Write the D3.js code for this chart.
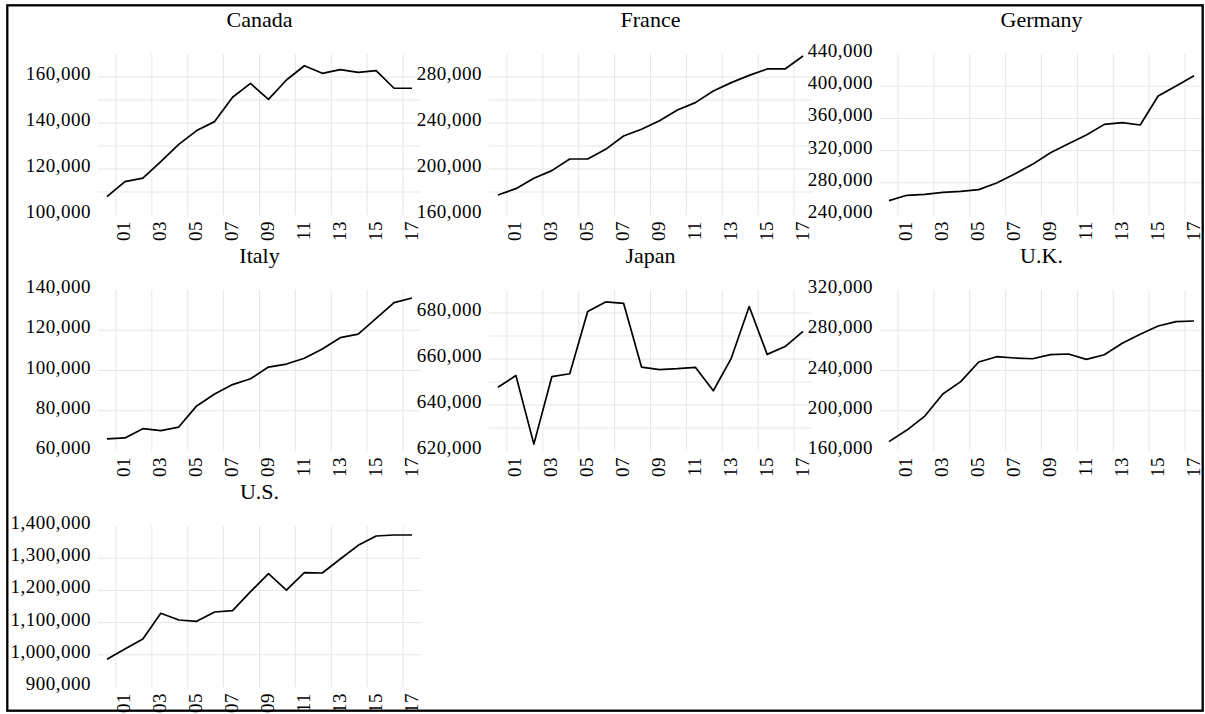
<!DOCTYPE html>
<html>
<head>
<meta charset="utf-8">
<script src="https://cdn.jsdelivr.net/npm/d3@7"></script>
<style>
  html, body { margin: 0; padding: 0; background: #fff; }
  svg { display: block; }
  .tick text { font-family: "Liberation Serif", "Times New Roman", serif; }
</style>
</head>
<body>
<svg id="chart" width="1205" height="714"></svg>
<script>
// Annual values, one point per year
const years = [2000, 2001, 2002, 2003, 2004, 2005, 2006, 2007, 2008, 2009,
               2010, 2011, 2012, 2013, 2014, 2015, 2016, 2017];

const canada  = [108000, 114500, 116000, 123200, 130700, 136700, 140600, 151200, 157200,
                 150300, 158700, 164900, 161600, 163200, 162000, 162800, 155100, 155100];
const france  = [177400, 182900, 191900, 198600, 208700, 208700, 217100, 228700, 234500,
                 242000, 251300, 257700, 267800, 275100, 281400, 287000, 287000, 298300];
const germany = [257800, 264500, 265700, 268200, 269400, 271500, 279800, 290900, 302900,
                 317400, 328600, 339400, 352600, 354700, 351800, 387800, 400200, 413100];
const italy   = [66000, 66500, 71100, 70100, 71900, 82400, 88300, 93000, 95900,
                 101700, 103200, 106100, 110700, 116300, 118100, 125900, 133700, 136000];
const japan   = [647700, 652800, 623000, 652300, 653600, 680700, 684800, 684200, 656500,
                 655400, 655800, 656400, 646200, 660300, 682800, 662000, 665400, 672000];
const uk      = [169300, 180800, 194700, 216600, 228900, 248400, 253700, 252400, 251700,
                 255700, 256400, 251100, 255700, 267000, 276000, 284200, 288500, 289200];
const us      = [986000, 1018000, 1049000, 1129000, 1108000, 1104000, 1133000, 1137000, 1196000,
                 1252000, 1201000, 1255000, 1254000, 1297500, 1340000, 1369000, 1372000, 1372000];

// Year ticks along the bottom of every panel
const xTickYears  = [2001, 2003, 2005, 2007, 2009, 2011, 2013, 2015, 2017];
const xTickLabels = ["01", "03", "05", "07", "09", "11", "13", "15", "17"];

// Value axis extents, grid lines and labelled ticks per panel
const canadaRange  = [100000, 170000];
const canadaGrid   = [110000, 120000, 130000, 140000, 150000, 160000];
const canadaTicks  = [100000, 120000, 140000, 160000];

const franceRange  = [160000, 300000];
const franceGrid   = [180000, 200000, 220000, 240000, 260000, 280000];
const franceTicks  = [160000, 200000, 240000, 280000];

const germanyRange = [240000, 440000];
const germanyGrid  = [280000, 320000, 360000, 400000];
const germanyTicks = [240000, 280000, 320000, 360000, 400000, 440000];

const italyRange   = [60000, 140000];
const italyGrid    = [80000, 100000, 120000];
const italyTicks   = [60000, 80000, 100000, 120000, 140000];

const japanRange   = [620000, 690000];
const japanGrid    = [630000, 640000, 650000, 660000, 670000, 680000];
const japanTicks   = [620000, 640000, 660000, 680000];

const ukRange      = [160000, 320000];
const ukGrid       = [200000, 240000, 280000];
const ukTicks      = [160000, 200000, 240000, 280000, 320000];

const usRange      = [900000, 1400000];
const usGrid       = [1000000, 1100000, 1200000, 1300000];
const usTicks      = [900000, 1000000, 1100000, 1200000, 1300000, 1400000];

const panels = [
  { title: "Canada",  values: canada,  range: canadaRange,  grid: canadaGrid,  ticks: canadaTicks,  col: 0, row: 0 },
  { title: "France",  values: france,  range: franceRange,  grid: franceGrid,  ticks: franceTicks,  col: 1, row: 0 },
  { title: "Germany", values: germany, range: germanyRange, grid: germanyGrid, ticks: germanyTicks, col: 2, row: 0 },
  { title: "Italy",   values: italy,   range: italyRange,   grid: italyGrid,   ticks: italyTicks,   col: 0, row: 1 },
  { title: "Japan",   values: japan,   range: japanRange,   grid: japanGrid,   ticks: japanTicks,   col: 1, row: 1 },
  { title: "U.K.",    values: uk,      range: ukRange,      grid: ukGrid,      ticks: ukTicks,      col: 2, row: 1 },
  { title: "U.S.",    values: us,      range: usRange,      grid: usGrid,      ticks: usTicks,      col: 0, row: 2 }
];

// Panel geometry
const colLeft = [98, 489, 880];
const rowTop  = [54, 290, 526];
const pw = 323, ph = 161;
const fontFamily = '"Liberation Serif", "Times New Roman", serif';

const svg = d3.select("#chart");
svg.append("rect").attr("width", 1205).attr("height", 714).attr("fill", "#fff");

const fmt = d3.format(",");

panels.forEach(p => {
  const left = colLeft[p.col], top = rowTop[p.row];
  const x = d3.scaleLinear().domain([2000, 2018]).range([left, left + pw]);
  const y = d3.scaleLinear().domain(p.range).range([top + ph, top]);

  const g = svg.append("g");

  // grid: horizontal
  g.append("g").selectAll("line").data(p.grid).join("line")
    .attr("x1", left).attr("x2", left + pw)
    .attr("y1", d => y(d)).attr("y2", d => y(d))
    .attr("stroke", "#e6e6e6").attr("stroke-width", 1);
  // grid: vertical
  g.append("g").selectAll("line").data(xTickYears).join("line")
    .attr("x1", d => x(d)).attr("x2", d => x(d))
    .attr("y1", top).attr("y2", top + ph)
    .attr("stroke", "#e6e6e6").attr("stroke-width", 1);

  // value axis labels
  const ya = g.append("g").attr("transform", `translate(${left},0)`)
    .call(d3.axisLeft(y).tickValues(p.ticks).tickFormat(fmt).tickSize(0).tickPadding(7));
  ya.select(".domain").remove();
  ya.selectAll("text")
    .attr("dy", "2.5px")
    .attr("fill", "#000")
    .style("font-family", fontFamily)
    .style("font-size", "19px")
    .style("letter-spacing", "0.5px");

  // year axis labels, rotated
  const xa = g.append("g").attr("transform", `translate(0,${top + ph})`)
    .call(d3.axisBottom(x).tickValues(xTickYears)
      .tickFormat((d, i) => xTickLabels[i]).tickSize(0).tickPadding(0));
  xa.select(".domain").remove();
  xa.selectAll("text")
    .attr("x", 0).attr("y", 0).attr("dy", 0)
    .attr("transform", "translate(14,6) rotate(-90)")
    .attr("text-anchor", "end")
    .attr("fill", "#000")
    .style("font-family", fontFamily)
    .style("font-size", "19px")
    .style("letter-spacing", "0.5px");

  // series line
  const line = d3.line()
    .x((d, i) => x(years[i] + 0.5))
    .y(d => y(d));
  g.append("path")
    .datum(p.values)
    .attr("d", line)
    .attr("fill", "none")
    .attr("stroke", "#000")
    .attr("stroke-width", 1.7)
    .attr("stroke-linejoin", "round");

  // panel title
  g.append("text")
    .attr("x", left + pw / 2).attr("y", top - 27)
    .attr("text-anchor", "middle")
    .style("font-family", fontFamily)
    .style("font-size", "22px")
    .text(p.title);
});

// outer frame
svg.append("rect")
  .attr("x", 7.3).attr("y", 5.3)
  .attr("width", 1195.4).attr("height", 705.4)
  .attr("fill", "none").attr("stroke", "#000").attr("stroke-width", 2.3);
</script>
</body>
</html>
